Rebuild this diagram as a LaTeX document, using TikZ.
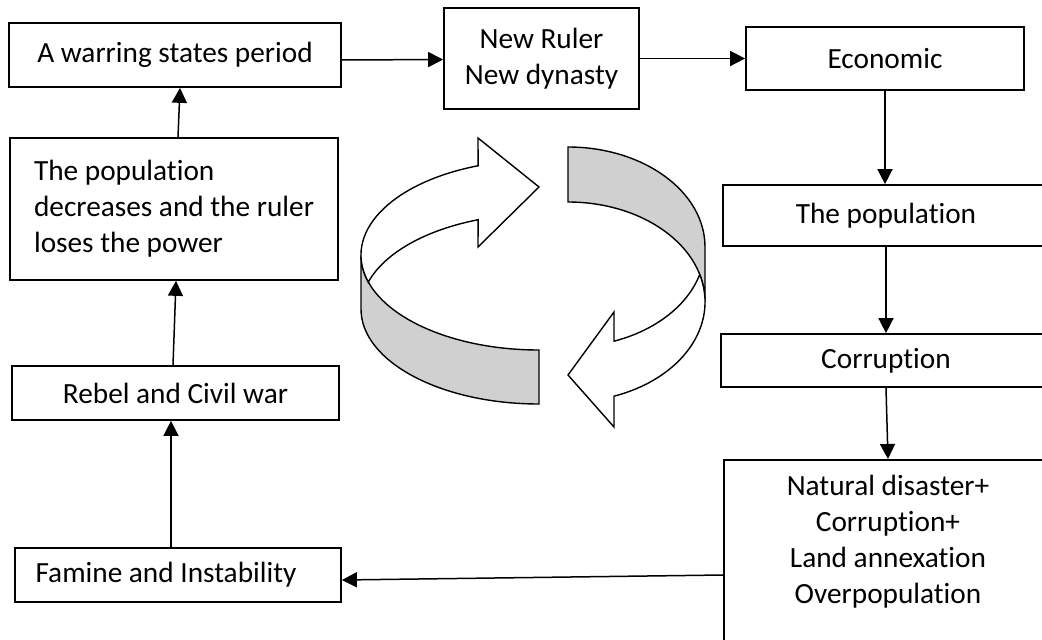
\documentclass[tikz,border=0pt]{standalone}
\usepackage{fontspec}
\setmainfont{Carlito}[Ligatures={NoCommon,NoContextual}]
\usetikzlibrary{arrows.meta}
\definecolor{ringgray}{RGB}{208,208,208}
\begin{document}
\begin{tikzpicture}[x=1pt,y=-1pt,
  every node/.style={font=\fontsize{29.3pt}{36pt}\selectfont},
  box/.style={draw, line width=1.7pt, inner sep=0pt, align=center},
  conn/.style={line width=1.5pt, -{Triangle[length=15pt,width=15pt]}},
  ring/.style={draw, line width=1.4pt, line join=miter}
]
\useasboundingbox (0,0) rectangle (1042,640);

% boxes
\node[box, minimum width=332pt, minimum height=64pt] (warring) at (175,55) {A warring states period};
\node[box, minimum width=195pt, minimum height=101pt] (newruler) at (541.5,58.5) {New Ruler\\New dynasty};
\node[box, minimum width=278pt, minimum height=63pt] (economic) at (885,58.5) {Economic};
\node[box, minimum width=328pt, minimum height=142pt, align=left] (popl) at (174,209) {The population\\decreases and the ruler\\loses the power};
\node[box, minimum width=327pt, minimum height=54pt] (rebel) at (175.5,393) {Rebel and Civil war};
\node[box, minimum width=326pt, minimum height=54pt] (famine) at (178,575) {Famine and Instability\hspace*{24pt}};
\node[box, minimum width=326pt, minimum height=61pt] (popr) at (886,215.5) {The population};
\node[box, minimum width=330pt, minimum height=53pt] (corr) at (886,360.5) {Corruption};
\node[box, minimum width=330pt, minimum height=240pt, anchor=north] (disaster) at (889,459) {};
\node[align=center, inner sep=0pt] (disastertext) at (888,542) {Natural disaster+\\Corruption+\\Land annexation\\Overpopulation};

% connectors
\draw[conn] ([yshift=-5pt]warring.east) -- ([yshift=-1pt]newruler.west);
\draw[conn] (newruler.east) -- (economic.west);
\draw[conn] (economic.south) -- ([xshift=-1pt]popr.north);
\draw[conn] (popr.south) -- (corr.north);
\draw[conn] (corr.south) -- ([xshift=-1pt]disaster.north);
\coordinate (dw) at ([yshift=-116pt]disaster.north west);
\draw[conn] (dw) -- ([yshift=-5pt]famine.east);
\draw[conn] ([xshift=-7pt]famine.north) -- ([xshift=-4.5pt]rebel.south);
\draw[conn] ([xshift=-2.5pt]rebel.north) -- ([xshift=2pt]popl.south);
\draw[conn] ([xshift=4pt]popl.north) -- ([xshift=5pt]warring.south);

% circular arrows
\draw[ring, fill=ringgray] (361,255) arc[start angle=180, end angle=90, x radius=178, y radius=95]
  -- (539,404) arc[start angle=90, end angle=180, x radius=178, y radius=95] -- cycle;
\draw[ring, fill=white] (368.33,281.98) arc[start angle=163.5, end angle=250, x radius=178, y radius=95]
  -- (478,138) -- (539,187) -- (478,247) -- (478.12,219.73)
  arc[start angle=250, end angle=196.5, x radius=178, y radius=95] -- cycle;
\draw[ring, fill=ringgray] (568,147) arc[start angle=270, end angle=360, x radius=137, y radius=100]
  -- (705,302) arc[start angle=360, end angle=270, x radius=137, y radius=100] -- cycle;
\draw[ring, fill=white] (699.73,274.5) arc[start angle=-15.96, end angle=70.4, x radius=137, y radius=100]
  -- (614,427) -- (568,375) -- (614,312) -- (613.96,341.2)
  arc[start angle=70.4, end angle=15.96, x radius=137, y radius=100] -- cycle;
\end{tikzpicture}
\end{document}
